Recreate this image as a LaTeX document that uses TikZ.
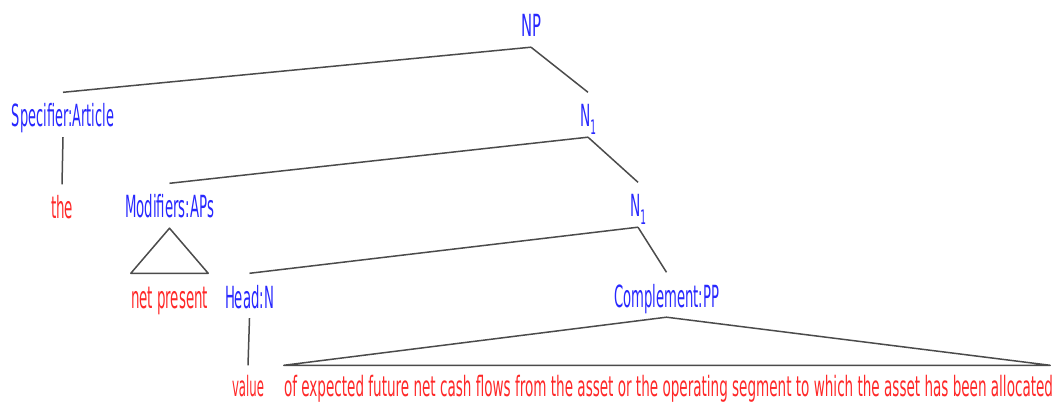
\documentclass[tikz,border=0pt]{standalone}
\usepackage{fontspec}
\setmainfont{DejaVu Sans}
\usepackage{graphicx}
\definecolor{tblue}{RGB}{40,40,255}
\definecolor{tred}{RGB}{255,40,40}
\definecolor{lgray}{RGB}{75,75,75}
\newcommand\fitw[2]{\resizebox{#1}{\height}{#2}}
\newcommand\subone{N\raisebox{-8pt}{\fontsize{20}{20}\selectfont 1}}
\tikzset{
  lbl/.style={inner xsep=0pt, inner ysep=10pt, text height=24.5pt, text depth=0pt,
    anchor=base, font=\fontsize{30.5}{36}\selectfont},
  cat/.style={lbl, text=tblue},
  word/.style={lbl, text=tred},
  lastword/.style={word, font=\fontsize{28}{33}\selectfont, inner ysep=6pt},
  edge/.style={draw=lgray, line width=1.5pt, line join=round},
}
\begin{document}
\begin{tikzpicture}[x=1pt,y=-1pt]
\useasboundingbox (0,0) rectangle (1059,403);
\node[cat] (np) at (531,37) {\fitw{20pt}{NP}};
\node[cat] (spec) at (63,127) {\fitw{102pt}{Specifier:Article}};
\node[cat] (n1a) at (588,127) {\fitw{16pt}{\subone}};
\node[word] (the) at (62,219) {\fitw{22pt}{the}};
\node[cat] (mods) at (169.5,218) {\fitw{89pt}{Modifiers:APs}};
\node[cat] (n1b) at (638,217) {\fitw{16pt}{\subone}};
\node[word] (netp) at (169.5,308) {\fitw{77pt}{net present}};
\node[cat] (head) at (249.5,308) {\fitw{49pt}{Head:N}};
\node[cat] (comp) at (666.5,307) {\fitw{105pt}{Complement:PP}};
\node[lastword] (value) at (248,396) {\fitw{32pt}{value}};
\node[lastword] (big) at (668.5,396) {\fitw{769pt}{of expected future net cash flows from the asset or the operating segment to which the asset has been allocated}};
\draw[edge] (np.south) -- (spec.north);
\draw[edge] (np.south) -- (n1a.north);
\draw[edge] (spec.south) -- (the.north);
\draw[edge] (n1a.south) -- (mods.north);
\draw[edge] (n1a.south) -- (n1b.north);
\draw[edge] (mods.south) -- (netp.north west) -- (netp.north east) -- cycle;
\draw[edge] (n1b.south) -- (head.north);
\draw[edge] (n1b.south) -- (comp.north);
\draw[edge] (head.south) -- (value.north);
\draw[edge] (comp.south) -- (big.north west) -- ([xshift=-3pt]big.north east) -- cycle;
\end{tikzpicture}
\end{document}
